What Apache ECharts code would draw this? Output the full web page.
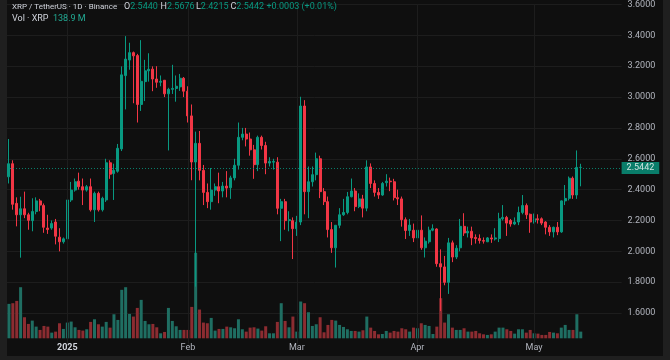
<!DOCTYPE html>
<html><head><meta charset="utf-8">
<script src="https://cdn.jsdelivr.net/npm/echarts@6/dist/echarts.min.js"></script>
<style>
html,body{margin:0;padding:0;background:#0f0f0f;}
#c{position:absolute;left:0;top:0;width:670px;height:360px;}
.f{position:absolute;background:#1f1f1f;}
</style>
</head><body>
<div id="c"></div>
<div class="f" style="left:0;top:0;width:7px;height:360px"></div>
<div class="f" style="left:663px;top:0;width:7px;height:360px"></div>
<div class="f" style="left:0;top:356px;width:670px;height:4px"></div>
<script>
// ---- data (XRP/USDT daily, Binance) ----
const firstDay = [2024, 11, 17];   // 17 Dec 2024
const futureSlots = 10;            // empty days on the right
const monthNames = ['Jan','Feb','Mar','Apr','May','Jun','Jul','Aug','Sep','Oct','Nov','Dec'];
const priceTicks = {min: 1.4, max: 3.6, step: 0.2};
const change = '+0.0003 (+0.01%)';

const open = [
2.483,2.568,2.311,2.237,2.276,2.237,2.199,2.258,2.327,2.297,
2.151,2.151,2.190,2.092,2.062,2.081,2.333,2.397,2.455,2.419,
2.397,2.419,2.269,2.376,2.269,2.333,2.574,2.504,2.519,2.664,
3.139,3.240,3.288,3.269,2.952,3.100,3.170,3.181,3.117,3.096,
3.109,3.021,3.050,3.056,3.066,3.122,3.038,2.878,2.579,2.700,
2.525,2.382,2.322,2.397,2.419,2.391,2.423,2.412,2.476,2.558,
2.739,2.760,2.728,2.658,2.562,2.739,2.686,2.572,2.578,2.578,
2.279,2.322,2.199,2.199,2.147,2.190,2.942,2.387,2.451,2.497,
2.600,2.387,2.322,2.141,2.023,2.169,2.237,2.252,2.354,2.391,
2.290,2.340,2.280,2.547,2.440,2.382,2.365,2.445,2.455,2.451,
2.348,2.340,2.205,2.135,2.137,2.087,2.137,2.023,2.062,2.137,
2.145,1.920,1.899,1.799,2.055,1.963,2.023,2.162,2.119,2.130,
2.090,2.083,2.070,2.062,2.087,2.080,2.083,2.211,2.220,2.200,
2.177,2.190,2.252,2.297,2.240,2.190,2.211,2.211,2.190,2.156,
2.126,2.156,2.126,2.327,2.344,2.474,2.365,2.5440];
const close = [
2.568,2.305,2.237,2.276,2.237,2.201,2.258,2.327,2.300,2.156,
2.141,2.180,2.098,2.062,2.081,2.333,2.397,2.451,2.419,2.397,
2.419,2.269,2.376,2.269,2.344,2.574,2.500,2.525,2.668,3.144,
3.246,3.288,3.267,2.952,3.102,3.170,3.180,3.117,3.096,3.102,
3.021,3.050,3.056,3.070,3.122,3.038,2.878,2.579,2.700,2.525,
2.382,2.322,2.397,2.419,2.391,2.423,2.410,2.476,2.558,2.739,
2.760,2.728,2.658,2.562,2.739,2.686,2.572,2.583,2.583,2.279,
2.322,2.199,2.205,2.147,2.190,2.942,2.387,2.451,2.497,2.600,
2.387,2.322,2.141,2.023,2.169,2.237,2.252,2.354,2.391,2.290,
2.340,2.280,2.547,2.440,2.382,2.365,2.440,2.455,2.451,2.348,
2.340,2.205,2.135,2.170,2.087,2.137,2.023,2.066,2.137,2.147,
1.920,1.899,1.799,2.055,1.963,2.020,2.162,2.119,2.130,2.087,
2.083,2.070,2.066,2.087,2.080,2.087,2.211,2.220,2.183,2.177,
2.190,2.252,2.297,2.237,2.190,2.211,2.205,2.183,2.156,2.126,
2.156,2.126,2.327,2.343,2.474,2.365,2.5439,2.5442];
const low = [
2.440,2.270,2.162,1.959,2.215,2.140,2.130,2.240,2.260,2.120,
2.113,2.140,2.045,2.000,2.050,2.075,2.320,2.387,2.400,2.300,
2.387,2.258,2.190,2.258,2.258,2.320,2.470,2.333,2.510,2.650,
2.920,3.177,2.960,2.835,2.910,2.974,3.100,3.038,3.060,3.070,
3.000,2.654,3.020,2.970,3.040,3.000,2.835,2.461,1.771,2.460,
2.300,2.280,2.270,2.360,2.312,2.350,2.350,2.340,2.460,2.530,
2.720,2.680,2.620,2.470,2.520,2.660,2.500,2.550,2.530,2.240,
2.066,2.140,2.130,1.950,2.100,2.170,2.240,2.215,2.420,2.460,
2.345,2.300,2.090,1.990,1.895,2.150,2.230,2.240,2.350,2.260,
2.280,2.220,2.260,2.410,2.355,2.340,2.360,2.420,2.390,2.330,
2.300,2.160,2.080,2.100,2.060,2.070,2.010,1.960,2.050,2.130,
1.900,1.613,1.780,1.724,1.930,1.950,2.000,2.100,2.090,2.040,
2.050,2.050,2.050,2.060,2.055,2.070,2.060,2.200,2.100,2.160,
2.170,2.170,2.240,2.210,2.120,2.180,2.180,2.170,2.110,2.100,
2.090,2.105,2.120,2.300,2.330,2.340,2.340,2.4215];
const high = [
2.728,2.590,2.350,2.354,2.387,2.250,2.344,2.350,2.340,2.310,
2.237,2.200,2.210,2.150,2.090,2.344,2.450,2.472,2.510,2.472,
2.430,2.472,2.387,2.387,2.354,2.600,2.590,2.568,2.696,3.199,
3.395,3.352,3.295,3.280,3.369,3.241,3.284,3.199,3.200,3.140,
3.110,3.060,3.209,3.140,3.150,3.130,3.070,2.952,2.776,2.780,
2.560,2.440,2.540,2.440,2.510,2.450,2.520,2.490,2.600,2.835,
2.800,2.800,2.770,2.690,2.750,2.750,2.710,2.610,2.600,2.610,
2.340,2.340,2.260,2.220,2.230,3.002,2.980,2.550,2.550,2.640,
2.620,2.410,2.355,2.190,2.170,2.280,2.340,2.385,2.472,2.410,
2.376,2.366,2.590,2.570,2.460,2.410,2.450,2.500,2.478,2.470,
2.400,2.355,2.220,2.210,2.180,2.180,2.233,2.090,2.160,2.175,
2.150,2.013,1.970,2.087,2.070,2.040,2.210,2.247,2.160,2.160,
2.110,2.110,2.090,2.093,2.110,2.150,2.250,2.300,2.230,2.210,
2.220,2.290,2.365,2.310,2.245,2.245,2.240,2.220,2.195,2.170,
2.160,2.190,2.330,2.430,2.485,2.485,2.654,2.5676];
// volume in millions of XRP
const volume = [
716,730,778,1063,438,299,368,243,174,257,
243,118,139,313,195,327,348,229,174,160,
188,341,396,292,243,341,222,500,382,1008,
1063,507,452,632,799,361,292,299,229,104,
132,632,361,250,174,174,174,653,1779,598,
327,313,424,160,195,195,243,229,209,396,
188,139,222,229,202,160,250,104,104,341,
730,361,229,452,139,765,730,542,257,292,
438,125,278,382,368,278,236,188,153,153,
139,167,452,222,153,83,90,153,118,153,
139,209,188,139,222,209,313,278,257,90,
243,834,327,500,222,174,174,209,139,139,
153,104,83,70,83,139,222,222,188,153,
97,188,188,118,174,104,97,70,70,132,
118,104,222,278,174,174,500,138.9];

// ---- build ----
const pad = n => (n < 10 ? '0' : '') + n;
const categories = [];
for (let i = 0; i < open.length + futureSlots; i++) {
  const d = new Date(firstDay[0], firstDay[1], firstDay[2] + i);
  categories.push(d.getFullYear() + '-' + pad(d.getMonth() + 1) + '-' + pad(d.getDate()));
}
const monthStarts = categories.filter(c => c.endsWith('-01'));
const ohlc = open.map((o, i) => [o, close[i], low[i], high[i]]);

const UP = '#089981', DOWN = '#f23645';
const VUP = '#1f6e62', VDOWN = '#8c2c31';
const GRIDC = '#1d1d1d';
const AX = '#b2b5be';
const TXT = '#d1d4dc';
const FONT = 'Roboto, "Noto Sans", sans-serif';

const volData = volume.map((v, i) => ({value: v, itemStyle: {color: close[i] >= open[i] ? VUP : VDOWN}}));
const n = open.length - 1;
const lastClose = close[n];
const lastVol = volume[n];
const vlines = monthStarts.map(c => ({xAxis: c}));

const rich = {t: {color: TXT, fontSize: 9, fontFamily: FONT}, v: {color: UP, fontSize: 9, fontFamily: FONT},
              w: {color: '#22ab94', fontSize: 9, fontFamily: FONT}};
const hdr = (left, top, text, size) => ({left, top, padding: 0, text,
  textStyle: {fontSize: size || 9, color: TXT, fontWeight: 'normal', fontFamily: FONT, rich}});

const chart = echarts.init(document.getElementById('c'), null, {renderer: 'canvas'});
chart.setOption({
  animation: false,
  backgroundColor: '#0f0f0f',
  textStyle: {fontFamily: FONT},
  title: [
    hdr(12, 2.5, 'XRP / TetherUS · 1D · Binance', 8),
    hdr(124, 2, '{t|O}{v|' + open[n].toFixed(4) + '}'),
    hdr(160.5, 2, '{t|H}{v|' + high[n].toFixed(4) + '}'),
    hdr(196, 2, '{t|L}{v|' + low[n].toFixed(4) + '}'),
    hdr(230.5, 2, '{t|C}{v|' + lastClose.toFixed(4) + '}'),
    hdr(266.5, 2, '{v|' + change + '}'),
    hdr(12, 14, '{t|Vol · XRP}  {w|' + lastVol.toFixed(1) + ' M}')
  ],
  grid: [
    {left: 7, right: 48.4, top: 0.7, bottom: 16.1},
    {left: 7, right: 48.4, top: 238.3, bottom: 21.7}
  ],
  xAxis: [
    {type: 'category', gridIndex: 0, data: categories, boundaryGap: true,
     axisLine: {show: false}, axisTick: {show: false}, axisLabel: {show: false}, splitLine: {show: false}},
    {type: 'category', gridIndex: 1, data: categories, boundaryGap: true,
     axisLine: {show: false}, axisTick: {show: false}, splitLine: {show: false},
     axisLabel: {
       interval: (idx, val) => val.endsWith('-01'),
       margin: 5, fontSize: 9, color: AX, fontFamily: FONT,
       formatter: val => {
         const m = +val.slice(5, 7);
         return m === 1 ? '{y|' + val.slice(0, 4) + '}' : monthNames[m - 1];
       },
       rich: {y: {fontWeight: 'bold', color: TXT, fontSize: 9, fontFamily: FONT}}
     }}
  ],
  yAxis: [
    {type: 'value', gridIndex: 0, position: 'right', min: priceTicks.min, max: priceTicks.max, interval: priceTicks.step,
     axisLine: {show: false}, axisTick: {show: false},
     axisLabel: {formatter: v => v.toFixed(4), color: AX, fontSize: 9, margin: 6, fontFamily: FONT, showMinLabel: false, showMaxLabel: true},
     splitLine: {show: true, showMinLine: false, lineStyle: {color: GRIDC, width: 1}}},
    {type: 'value', gridIndex: 1, min: 0, max: 2080, show: false, splitLine: {show: false}}
  ],
  series: [
    {type: 'line', xAxisIndex: 0, yAxisIndex: 0, data: [], z: 1, silent: true,
     markLine: {silent: true, symbol: ['none', 'none'], label: {show: false}, animation: false,
                lineStyle: {color: GRIDC, width: 1, type: 'solid'}, data: vlines}},
    {type: 'bar', xAxisIndex: 1, yAxisIndex: 1, data: volData, barWidth: 3, z: 2,
     markLine: {silent: true, symbol: ['none', 'none'], animation: false,
                lineStyle: {opacity: 0},
                label: {show: true, position: 'end', distance: 0, formatter: lastVol.toFixed(1) + 'M',
                        backgroundColor: '#22ab94', color: '#ffffff', fontSize: 9, fontFamily: FONT, padding: [2, 4, 1, 4]},
                data: [{yAxis: lastVol}]}},
    {type: 'candlestick', xAxisIndex: 0, yAxisIndex: 0, data: ohlc, barWidth: 2.5, z: 3,
     itemStyle: {color: UP, color0: DOWN, borderColor: UP, borderColor0: DOWN, borderWidth: 1},
     markLine: {silent: true, symbol: ['none', 'none'], animation: false,
                lineStyle: {color: UP, width: 1, type: [1, 2], opacity: 0.8},
                label: {show: true, position: 'end', distance: 0, formatter: lastClose.toFixed(4),
                        backgroundColor: UP, color: '#ffffff', fontSize: 9, fontFamily: FONT, padding: [2, 5, 1, 5]},
                data: [{yAxis: lastClose}]}}
  ]
});
</script>
</body></html>
